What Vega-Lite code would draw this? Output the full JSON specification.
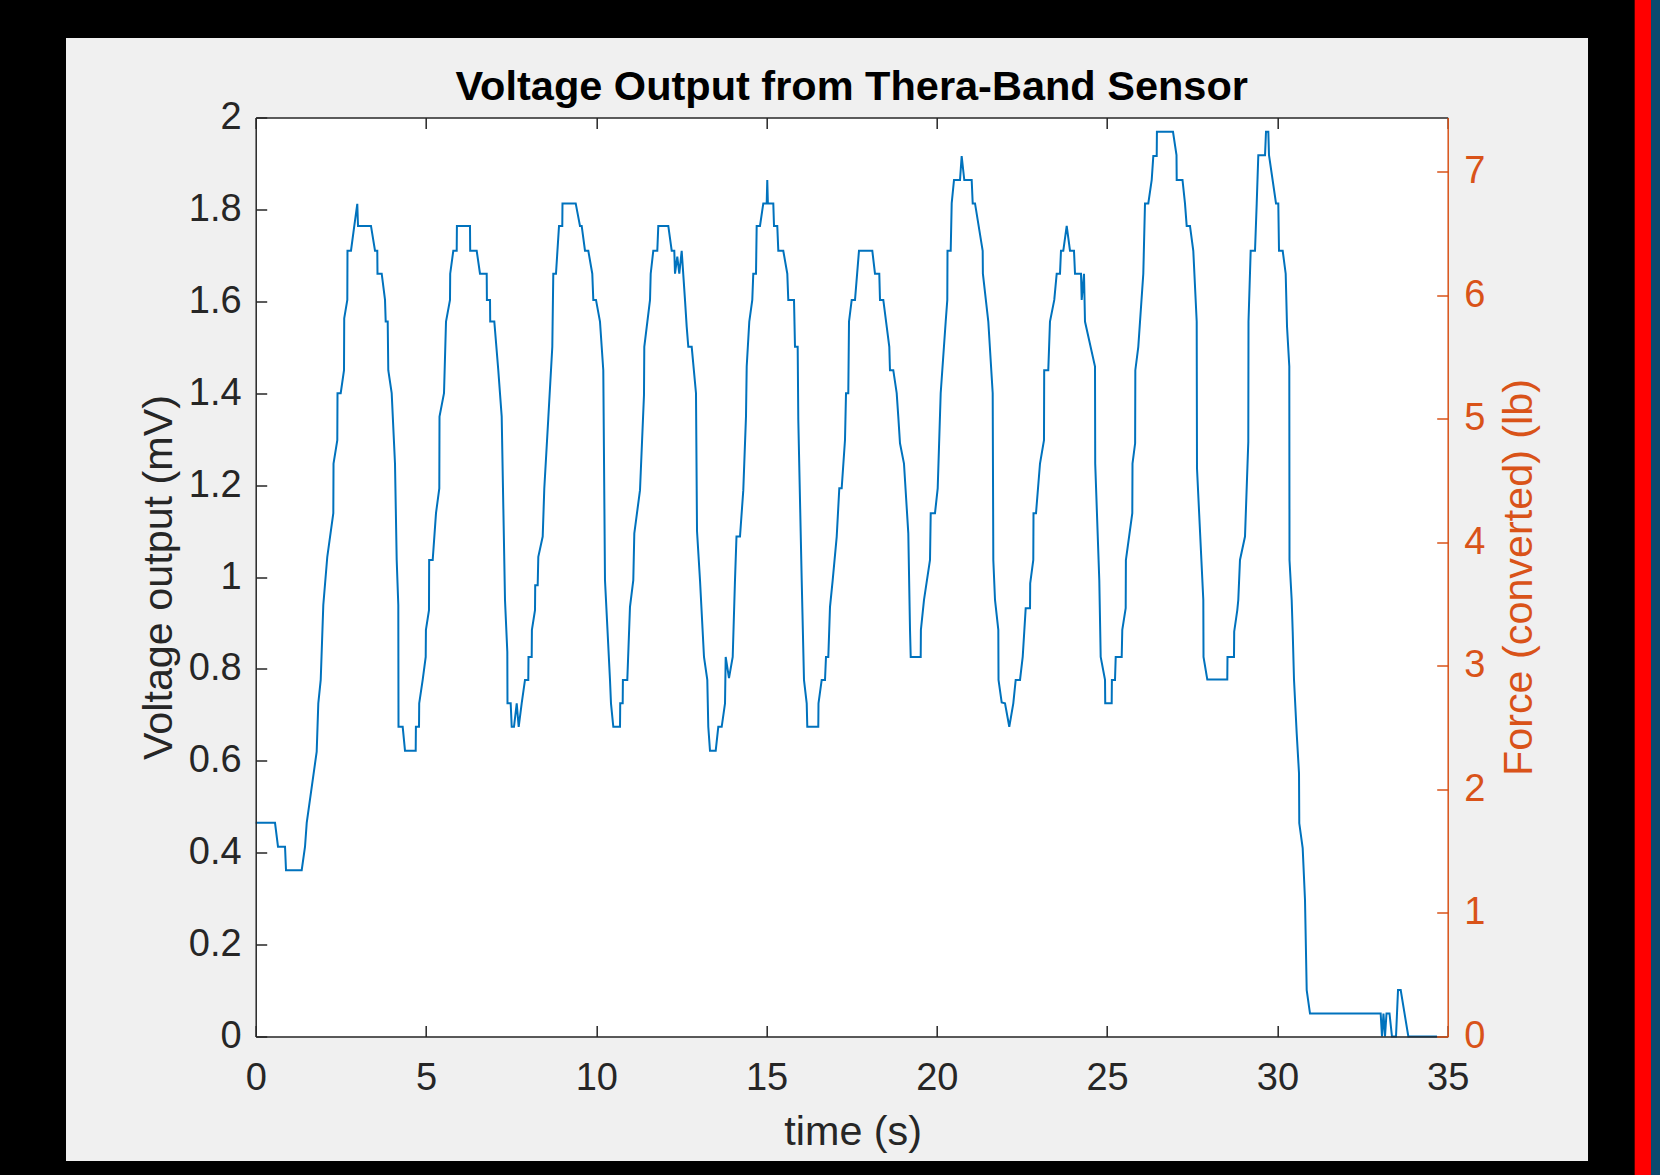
{
  "$schema": "https://vega.github.io/schema/vega-lite/v6.json",
  "width": 1192,
  "height": 919,
  "autosize": {"type": "none"},
  "padding": {"left": 255.7, "top": 117.5, "right": 212.3, "bottom": 138.5},
  "background": "#000000",
  "config": {
    "view": {"stroke": null},
    "font": "Liberation Sans",
    "axis": {
      "grid": false,
      "labelFont": "Liberation Sans",
      "titleFont": "Liberation Sans",
      "labelFontSize": 38,
      "titleFontSize": 41.3,
      "titleFontWeight": "normal",
      "labelColor": "#262626",
      "titleColor": "#262626",
      "domainColor": "#262626",
      "tickColor": "#262626",
      "domainWidth": 1.5,
      "tickWidth": 1.5,
      "tickSize": -11,
      "labelFlush": false,
      "labelOverlap": false
    }
  },
  "title": {
    "text": "Voltage Output from Thera-Band Sensor",
    "font": "Liberation Sans",
    "fontSize": 41.5,
    "fontWeight": "bold",
    "color": "#000000",
    "anchor": "middle",
    "frame": "group",
    "baseline": "alphabetic",
    "offset": 0,
    "dy": 143
  },
  "data": {"values": [
    {"t":0,"v":0.465},{"t":0.567,"v":0.465},{"t":0.655,"v":0.413},{"t":0.861,"v":0.413},{"t":0.89,"v":0.362},{"t":1.351,"v":0.362},{"t":1.448,"v":0.413},{"t":1.498,"v":0.465},{"t":1.791,"v":0.62},{"t":1.838,"v":0.725},{"t":1.909,"v":0.776},{"t":1.985,"v":0.939},{"t":2.102,"v":1.044},{"t":2.279,"v":1.139},{"t":2.285,"v":1.247},{"t":2.396,"v":1.298},{"t":2.402,"v":1.4},{"t":2.496,"v":1.4},{"t":2.593,"v":1.45},{"t":2.599,"v":1.563},{"t":2.69,"v":1.603},{"t":2.695,"v":1.71},{"t":2.798,"v":1.71},{"t":2.895,"v":1.764},{"t":2.983,"v":1.812},{"t":3.004,"v":1.764},{"t":3.385,"v":1.764},{"t":3.503,"v":1.71},{"t":3.57,"v":1.71},{"t":3.576,"v":1.66},{"t":3.7,"v":1.66},{"t":3.797,"v":1.603},{"t":3.817,"v":1.556},{"t":3.876,"v":1.556},{"t":3.893,"v":1.45},{"t":3.993,"v":1.4},{"t":4.09,"v":1.247},{"t":4.14,"v":1.037},{"t":4.187,"v":0.939},{"t":4.193,"v":0.674},{"t":4.316,"v":0.674},{"t":4.384,"v":0.622},{"t":4.698,"v":0.622},{"t":4.704,"v":0.674},{"t":4.795,"v":0.674},{"t":4.801,"v":0.725},{"t":4.903,"v":0.776},{"t":4.992,"v":0.826},{"t":4.998,"v":0.885},{"t":5.088,"v":0.928},{"t":5.093,"v":1.037},{"t":5.197,"v":1.037},{"t":5.294,"v":1.139},{"t":5.391,"v":1.193},{"t":5.397,"v":1.349},{"t":5.529,"v":1.4},{"t":5.588,"v":1.556},{"t":5.705,"v":1.603},{"t":5.711,"v":1.66},{"t":5.802,"v":1.71},{"t":5.902,"v":1.71},{"t":5.908,"v":1.764},{"t":6.292,"v":1.764},{"t":6.298,"v":1.71},{"t":6.489,"v":1.71},{"t":6.586,"v":1.66},{"t":6.783,"v":1.66},{"t":6.789,"v":1.603},{"t":6.88,"v":1.603},{"t":6.886,"v":1.556},{"t":7.006,"v":1.556},{"t":7.123,"v":1.45},{"t":7.223,"v":1.349},{"t":7.32,"v":0.95},{"t":7.388,"v":0.837},{"t":7.393,"v":0.725},{"t":7.487,"v":0.725},{"t":7.517,"v":0.674},{"t":7.584,"v":0.674},{"t":7.664,"v":0.725},{"t":7.722,"v":0.674},{"t":7.81,"v":0.725},{"t":7.907,"v":0.776},{"t":8.004,"v":0.776},{"t":8.01,"v":0.826},{"t":8.104,"v":0.826},{"t":8.11,"v":0.885},{"t":8.201,"v":0.928},{"t":8.207,"v":0.982},{"t":8.28,"v":0.982},{"t":8.298,"v":1.044},{"t":8.427,"v":1.088},{"t":8.474,"v":1.193},{"t":8.591,"v":1.345},{"t":8.709,"v":1.501},{"t":8.738,"v":1.66},{"t":8.817,"v":1.66},{"t":8.906,"v":1.764},{"t":9.002,"v":1.764},{"t":9.008,"v":1.813},{"t":9.396,"v":1.813},{"t":9.522,"v":1.764},{"t":9.572,"v":1.764},{"t":9.669,"v":1.71},{"t":9.766,"v":1.71},{"t":9.883,"v":1.66},{"t":9.913,"v":1.603},{"t":9.992,"v":1.603},{"t":10.109,"v":1.556},{"t":10.206,"v":1.45},{"t":10.256,"v":0.993},{"t":10.403,"v":0.776},{"t":10.432,"v":0.725},{"t":10.5,"v":0.674},{"t":10.697,"v":0.674},{"t":10.703,"v":0.725},{"t":10.776,"v":0.725},{"t":10.782,"v":0.776},{"t":10.911,"v":0.776},{"t":10.99,"v":0.935},{"t":11.087,"v":0.993},{"t":11.117,"v":1.095},{"t":11.284,"v":1.189},{"t":11.401,"v":1.396},{"t":11.41,"v":1.501},{"t":11.578,"v":1.603},{"t":11.598,"v":1.66},{"t":11.674,"v":1.71},{"t":11.792,"v":1.71},{"t":11.821,"v":1.764},{"t":12.115,"v":1.764},{"t":12.215,"v":1.71},{"t":12.291,"v":1.71},{"t":12.312,"v":1.66},{"t":12.379,"v":1.697},{"t":12.438,"v":1.66},{"t":12.508,"v":1.71},{"t":12.605,"v":1.603},{"t":12.655,"v":1.545},{"t":12.702,"v":1.501},{"t":12.802,"v":1.501},{"t":12.928,"v":1.4},{"t":12.958,"v":1.1},{"t":13.046,"v":0.993},{"t":13.163,"v":0.826},{"t":13.26,"v":0.776},{"t":13.289,"v":0.674},{"t":13.339,"v":0.622},{"t":13.507,"v":0.622},{"t":13.583,"v":0.674},{"t":13.683,"v":0.674},{"t":13.78,"v":0.725},{"t":13.8,"v":0.826},{"t":13.897,"v":0.78},{"t":14.006,"v":0.826},{"t":14.073,"v":0.993},{"t":14.117,"v":1.088},{"t":14.22,"v":1.088},{"t":14.317,"v":1.189},{"t":14.396,"v":1.349},{"t":14.417,"v":1.458},{"t":14.493,"v":1.556},{"t":14.581,"v":1.603},{"t":14.61,"v":1.66},{"t":14.69,"v":1.66},{"t":14.71,"v":1.764},{"t":14.807,"v":1.764},{"t":14.904,"v":1.813},{"t":15.004,"v":1.813},{"t":15.021,"v":1.864},{"t":15.039,"v":1.813},{"t":15.198,"v":1.813},{"t":15.219,"v":1.764},{"t":15.315,"v":1.764},{"t":15.345,"v":1.71},{"t":15.491,"v":1.71},{"t":15.609,"v":1.66},{"t":15.638,"v":1.603},{"t":15.806,"v":1.603},{"t":15.835,"v":1.501},{"t":15.914,"v":1.501},{"t":15.932,"v":1.342},{"t":16.032,"v":0.993},{"t":16.099,"v":0.776},{"t":16.179,"v":0.725},{"t":16.196,"v":0.674},{"t":16.519,"v":0.674},{"t":16.525,"v":0.725},{"t":16.619,"v":0.776},{"t":16.716,"v":0.776},{"t":16.745,"v":0.826},{"t":16.813,"v":0.826},{"t":16.863,"v":0.935},{"t":16.942,"v":0.993},{"t":17.06,"v":1.088},{"t":17.136,"v":1.193},{"t":17.206,"v":1.193},{"t":17.303,"v":1.298},{"t":17.333,"v":1.4},{"t":17.4,"v":1.4},{"t":17.421,"v":1.556},{"t":17.5,"v":1.603},{"t":17.597,"v":1.603},{"t":17.714,"v":1.71},{"t":18.105,"v":1.71},{"t":18.184,"v":1.66},{"t":18.31,"v":1.66},{"t":18.331,"v":1.603},{"t":18.428,"v":1.603},{"t":18.604,"v":1.501},{"t":18.624,"v":1.45},{"t":18.721,"v":1.45},{"t":18.821,"v":1.4},{"t":18.868,"v":1.349},{"t":18.918,"v":1.291},{"t":19.035,"v":1.247},{"t":19.162,"v":1.095},{"t":19.212,"v":0.885},{"t":19.233,"v":0.826},{"t":19.526,"v":0.826},{"t":19.532,"v":0.885},{"t":19.623,"v":0.95},{"t":19.799,"v":1.037},{"t":19.82,"v":1.139},{"t":19.946,"v":1.139},{"t":20.025,"v":1.193},{"t":20.113,"v":1.4},{"t":20.26,"v":1.556},{"t":20.307,"v":1.603},{"t":20.313,"v":1.71},{"t":20.407,"v":1.71},{"t":20.436,"v":1.813},{"t":20.504,"v":1.864},{"t":20.68,"v":1.864},{"t":20.729,"v":1.916},{"t":20.806,"v":1.864},{"t":21.023,"v":1.864},{"t":21.053,"v":1.813},{"t":21.121,"v":1.813},{"t":21.346,"v":1.71},{"t":21.352,"v":1.66},{"t":21.511,"v":1.556},{"t":21.64,"v":1.4},{"t":21.658,"v":1.037},{"t":21.708,"v":0.95},{"t":21.805,"v":0.885},{"t":21.811,"v":0.776},{"t":21.904,"v":0.727},{"t":22.001,"v":0.725},{"t":22.127,"v":0.674},{"t":22.245,"v":0.725},{"t":22.315,"v":0.776},{"t":22.442,"v":0.776},{"t":22.521,"v":0.826},{"t":22.609,"v":0.932},{"t":22.736,"v":0.932},{"t":22.741,"v":0.986},{"t":22.832,"v":1.037},{"t":22.838,"v":1.139},{"t":22.912,"v":1.139},{"t":23.029,"v":1.247},{"t":23.146,"v":1.298},{"t":23.152,"v":1.45},{"t":23.272,"v":1.45},{"t":23.322,"v":1.556},{"t":23.448,"v":1.603},{"t":23.519,"v":1.66},{"t":23.616,"v":1.66},{"t":23.645,"v":1.71},{"t":23.713,"v":1.71},{"t":23.813,"v":1.764},{"t":23.91,"v":1.71},{"t":24.027,"v":1.71},{"t":24.057,"v":1.66},{"t":24.233,"v":1.66},{"t":24.253,"v":1.603},{"t":24.321,"v":1.66},{"t":24.35,"v":1.556},{"t":24.644,"v":1.458},{"t":24.65,"v":1.247},{"t":24.77,"v":0.993},{"t":24.811,"v":0.826},{"t":24.938,"v":0.776},{"t":24.944,"v":0.725},{"t":25.134,"v":0.725},{"t":25.14,"v":0.776},{"t":25.231,"v":0.776},{"t":25.252,"v":0.826},{"t":25.428,"v":0.826},{"t":25.445,"v":0.885},{"t":25.545,"v":0.932},{"t":25.551,"v":1.037},{"t":25.739,"v":1.139},{"t":25.745,"v":1.247},{"t":25.822,"v":1.291},{"t":25.828,"v":1.45},{"t":25.915,"v":1.501},{"t":26.062,"v":1.66},{"t":26.112,"v":1.813},{"t":26.209,"v":1.813},{"t":26.309,"v":1.864},{"t":26.356,"v":1.916},{"t":26.456,"v":1.916},{"t":26.462,"v":1.969},{"t":26.934,"v":1.969},{"t":27.037,"v":1.918},{"t":27.043,"v":1.864},{"t":27.213,"v":1.864},{"t":27.286,"v":1.813},{"t":27.336,"v":1.764},{"t":27.433,"v":1.764},{"t":27.53,"v":1.71},{"t":27.63,"v":1.556},{"t":27.639,"v":1.236},{"t":27.824,"v":0.95},{"t":27.83,"v":0.826},{"t":27.941,"v":0.777},{"t":28.528,"v":0.777},{"t":28.534,"v":0.826},{"t":28.725,"v":0.826},{"t":28.731,"v":0.881},{"t":28.822,"v":0.928},{"t":28.851,"v":0.95},{"t":28.901,"v":1.037},{"t":29.048,"v":1.088},{"t":29.145,"v":1.294},{"t":29.151,"v":1.556},{"t":29.215,"v":1.71},{"t":29.342,"v":1.71},{"t":29.392,"v":1.813},{"t":29.439,"v":1.918},{"t":29.636,"v":1.918},{"t":29.665,"v":1.969},{"t":29.733,"v":1.969},{"t":29.753,"v":1.918},{"t":29.959,"v":1.813},{"t":30.026,"v":1.813},{"t":30.047,"v":1.71},{"t":30.155,"v":1.71},{"t":30.243,"v":1.66},{"t":30.282,"v":1.545},{"t":30.349,"v":1.458},{"t":30.355,"v":1.037},{"t":30.419,"v":0.95},{"t":30.449,"v":0.881},{"t":30.487,"v":0.777},{"t":30.566,"v":0.66},{"t":30.634,"v":0.573},{"t":30.642,"v":0.464},{"t":30.742,"v":0.41},{"t":30.81,"v":0.297},{"t":30.86,"v":0.101},{"t":30.957,"v":0.05},{"t":33.032,"v":0.05},{"t":33.07,"v":0},{"t":33.114,"v":0.05},{"t":33.159,"v":0},{"t":33.203,"v":0.05},{"t":33.291,"v":0.05},{"t":33.364,"v":0},{"t":33.482,"v":0},{"t":33.541,"v":0.101},{"t":33.62,"v":0.101},{"t":33.844,"v":0},{"t":34.685,"v":0}
  ]},
  "layer": [
    {
      "data": {"values": [{}]},
      "mark": {"type": "rect", "fill": "#f0f0f0"},
      "encoding": {
        "x": {"datum": -5.57, "type": "quantitative", "scale": {"domain": [0, 35], "nice": false, "zero": false}, "axis": null},
        "x2": {"datum": 39.12},
        "y": {"datum": 2.173, "type": "quantitative", "scale": {"domain": [0, 2], "nice": false, "zero": false}, "axis": null},
        "y2": {"datum": -0.271}
      }
    },
    {
      "data": {"values": [{}]},
      "mark": {"type": "rect", "fill": "#ff0000"},
      "encoding": {
        "x": {"datum": 40.49, "type": "quantitative", "axis": null},
        "x2": {"datum": 40.97},
        "y": {"datum": 2.26, "type": "quantitative", "scale": {"domain": [0, 2], "nice": false, "zero": false}, "axis": null},
        "y2": {"datum": -0.31}
      }
    },
    {
      "data": {"values": [{}]},
      "mark": {"type": "rect", "fill": "#0b4a6f"},
      "encoding": {
        "x": {"datum": 40.97, "type": "quantitative", "axis": null},
        "x2": {"datum": 41.3},
        "y": {"datum": 2.26, "type": "quantitative", "scale": {"domain": [0, 2], "nice": false, "zero": false}, "axis": null},
        "y2": {"datum": -0.31}
      }
    },
    {
      "data": {"values": [{}]},
      "mark": {"type": "rect", "fill": "#ffffff"},
      "encoding": {
        "x": {"datum": 0, "type": "quantitative", "axis": null},
        "x2": {"datum": 35},
        "y": {"datum": 2, "type": "quantitative", "scale": {"domain": [0, 2], "nice": false, "zero": false}, "axis": null},
        "y2": {"datum": 0}
      }
    },
    {
      "mark": {"type": "line", "color": "#0072BD", "strokeWidth": 2, "interpolate": "linear"},
      "encoding": {
        "x": {
          "field": "t", "type": "quantitative",
          "scale": {"domain": [0, 35], "nice": false, "zero": false},
          "axis": {
            "orient": "bottom",
            "zindex": 2,
            "values": [0, 5, 10, 15, 20, 25, 30, 35],
            "format": "d",
            "labelPadding": 33.5,
            "labelBaseline": "top",
            "title": "time (s)",
            "titleX": 597,
            "titleY": 108,
            "titleAlign": "center",
            "titleBaseline": "alphabetic",
            "titleAnchor": null
          }
        },
        "y": {
          "field": "v", "type": "quantitative",
          "scale": {"domain": [0, 2], "nice": false, "zero": false},
          "axis": {
            "orient": "left",
            "zindex": 2,
            "values": [0, 0.2, 0.4, 0.6, 0.8, 1, 1.2, 1.4, 1.6, 1.8, 2],
            "format": ".1~f",
            "labelPadding": 25.5,
            "title": "Voltage output (mV)",
            "titleAngle": -90,
            "titleX": -84,
            "titleY": 459.5,
            "titleAlign": "center",
            "titleBaseline": "alphabetic",
            "titleAnchor": null
          }
        }
      }
    },
    {
      "data": {"values": [{}]},
      "mark": {"type": "point", "opacity": 0},
      "encoding": {
        "x": {
          "datum": 0, "type": "quantitative",
          "scale": {"domain": [0, 35], "nice": false, "zero": false},
          "axis": {
            "orient": "top",
            "zindex": 2,
            "values": [0, 5, 10, 15, 20, 25, 30, 35],
            "labels": false,
            "title": null
          }
        },
        "y": {
          "datum": 0, "type": "quantitative",
          "scale": {"domain": [0, 7.44], "nice": false, "zero": false},
          "axis": {
            "orient": "right",
            "zindex": 2,
            "values": [0, 1, 2, 3, 4, 5, 6, 7],
            "format": "d",
            "labelPadding": 27,
            "labelColor": "#D95319",
            "domainColor": "#D95319",
            "tickColor": "#D95319",
            "titleColor": "#D95319",
            "title": "Force (converted) (lb)",
            "titleAngle": -90,
            "titleX": 83.3,
            "titleY": 459.5,
            "titleAlign": "center",
            "titleBaseline": "alphabetic",
            "titleAnchor": null
          }
        }
      }
    }
  ],
  "resolve": {"scale": {"y": "independent"}, "axis": {"x": "independent", "y": "independent"}}
}
